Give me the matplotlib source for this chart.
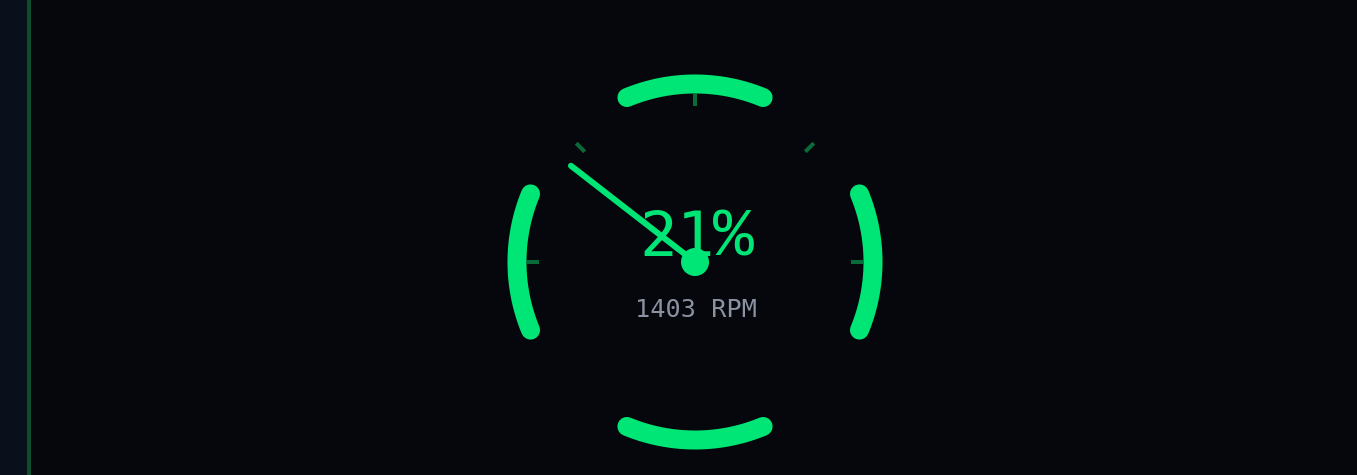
import numpy as np
import matplotlib
matplotlib.use("Agg")
import matplotlib.pyplot as plt
from matplotlib.patches import Rectangle, Circle

# data
percent_value = 21
rpm_value = 1403
arc_centers_deg = [0, 90, 180, 270]
arc_half_span_deg = 22.5
tick_angles_deg = [0, 45, 90, 135, 180]

W, H = 1357, 475
fig = plt.figure(figsize=(W / 100, H / 100), dpi=100)
fig.patch.set_facecolor("#05070c")
ax = fig.add_axes([0, 0, 1, 1])
ax.set_xlim(0, W)
ax.set_ylim(H, 0)
ax.set_facecolor("#05070c")
ax.axis("off")

# left sidebar strip + accent line
ax.add_patch(Rectangle((0, 0), 27, H, color="#0a0f1c", lw=0, zorder=0))
ax.add_patch(Rectangle((27, 0), 4, H, color="#0b4d2c", lw=0, zorder=1))

cx, cy = 695, 262
R = 178
green = "#00e676"
px = 0.72  # points per pixel

def pt(r, ang):
    a = np.deg2rad(ang)
    return cx + r * np.cos(a), cy - r * np.sin(a)

for c in arc_centers_deg:
    t = np.linspace(c - arc_half_span_deg, c + arc_half_span_deg, 100)
    xs, ys = pt(R, t)
    ax.plot(xs, ys, color=green, lw=19 * px, solid_capstyle="round", zorder=3)

for a in tick_angles_deg:
    x0, y0 = pt(156, a)
    x1, y1 = pt(168, a)
    ax.plot([x0, x1], [y0, y1], color="#0a6b3a", lw=4 * px, solid_capstyle="butt", zorder=3)

ax.text(715, 256, f"{percent_value}", color=green, fontsize=62.6 * px,
        family="DejaVu Sans Mono", ha="right", va="baseline", zorder=4)
ax.text(713, 256, "%", color=green, fontsize=68 * px,
        family="Liberation Mono", ha="left", va="baseline", zorder=4)
ax.text(696, 317, f"{rpm_value} RPM", color="#8b92a1", fontsize=25.3 * px,
        family="DejaVu Sans Mono", ha="center", va="baseline", zorder=4)

needle_ang = 180 - percent_value / 100 * 180
nx, ny = pt(157, needle_ang)
ax.plot([cx, nx], [cy, ny], color=green, lw=6 * px, solid_capstyle="round", zorder=5)
ax.add_patch(Circle((cx, cy), 14, color=green, lw=0, zorder=6))

fig.savefig("out.png", dpi=100, facecolor=fig.get_facecolor())
